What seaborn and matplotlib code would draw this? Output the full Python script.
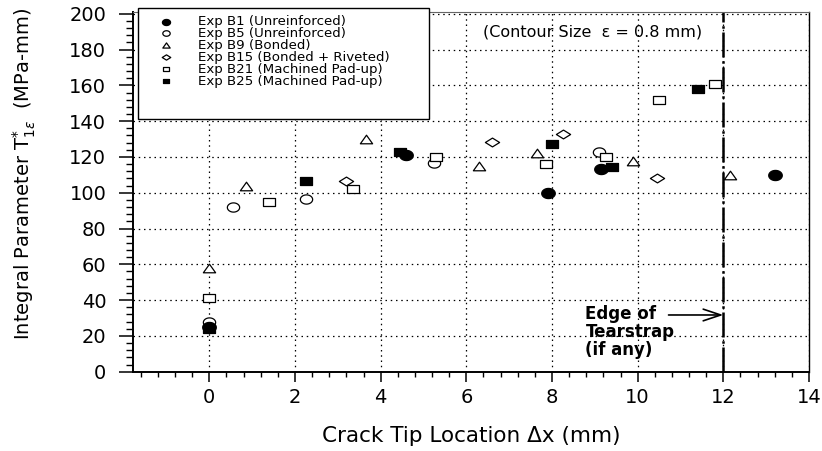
import numpy as np
import pandas as pd
import matplotlib
matplotlib.use("Agg")
import matplotlib.pyplot as plt
from matplotlib.path import Path
from matplotlib.patches import Rectangle
from matplotlib.ticker import MultipleLocator
import seaborn as sns

# ---------------- data ----------------
series_names = [
    "Exp B1 (Unreinforced)",
    "Exp B5 (Unreinforced)",
    "Exp B9 (Bonded)",
    "Exp B15 (Bonded + Riveted)",
    "Exp B21 (Machined Pad-up)",
    "Exp B25 (Machined Pad-up)",
]
b1_x = [0.0, 4.6, 7.9, 9.15, 13.2]
b1_y = [25, 121, 100, 113, 110]
b5_x = [0.0, 0.55, 2.25, 5.25, 9.1]
b5_y = [28, 92, 96.5, 116.5, 123]
b9_x = [0.0, 0.85, 3.65, 6.3, 7.65, 9.9, 12.15]
b9_y = [58, 104, 130, 115, 122, 118, 110]
b15_x = [3.2, 6.6, 8.25, 10.45]
b15_y = [106.5, 128.5, 133, 108.5]
b21_x = [0.0, 1.4, 3.35, 5.3, 7.85, 9.25, 10.5, 11.8]
b21_y = [41, 95, 102, 120, 116, 120, 152, 161]
b25_x = [0.0, 2.25, 4.45, 8.0, 9.4, 11.4]
b25_y = [24, 106.5, 123, 127, 114.5, 158]

x_ticks = [0, 2, 4, 6, 8, 10, 12, 14]
y_ticks = [0, 20, 40, 60, 80, 100, 120, 140, 160, 180, 200]
tearstrap_x = 12.0
edge_arrow_y = 31.7
edge_arrow_start_x = 10.72
edge_text = "Edge of\nTearstrap\n(if any)"
contour_text = "(Contour Size  \u03b5 = 0.8 mm)"
x_label = "Crack Tip Location \u0394x (mm)"
y_label = r"Integral Parameter T$^{*}_{1\varepsilon}$  (MPa-mm)"

xs = [b1_x, b5_x, b9_x, b15_x, b21_x, b25_x]
ys = [b1_y, b5_y, b9_y, b15_y, b21_y, b25_y]
df = pd.concat(
    [pd.DataFrame({"x": x, "y": y, "series": n}) for n, x, y in zip(series_names, xs, ys)],
    ignore_index=True,
)

# ---------------- marker shapes (image is horizontally wide) ----------------
def make_path(verts):
    verts = list(verts) + [verts[0]]
    return Path(np.array(verts, dtype=float), closed=True)

t = np.linspace(0, 2 * np.pi, 64, endpoint=False)
ellipse = make_path(list(zip(np.cos(t), 0.75 * np.sin(t))))
square = make_path([(-1, -0.7), (1, -0.7), (1, 0.7), (-1, 0.7)])
triangle = make_path([(-1, -0.7), (1, -0.7), (0, 0.7)])
diamond = make_path([(0, -0.62), (1, 0), (0, 0.62), (-1, 0)])

styles = {
    series_names[0]: dict(marker=ellipse, color="black", s=95, zorder=4),
    series_names[1]: dict(marker=ellipse, color="white", s=78, zorder=3),
    series_names[2]: dict(marker=triangle, color="white", s=78, zorder=3),
    series_names[3]: dict(marker=diamond, color="white", s=105, zorder=3),
    series_names[4]: dict(marker=square, color="white", s=66, zorder=3),
    series_names[5]: dict(marker=square, color="black", s=66, zorder=4),
}

# ---------------- figure ----------------
sns.set_theme(style="ticks")
plt.rcParams["font.family"] = ["DejaVu Sans"]
plt.rcParams["mathtext.fontset"] = "dejavusans"
for key in ["text.color", "axes.labelcolor", "xtick.color", "ytick.color"]:
    plt.rcParams[key] = "black"

fig = plt.figure(figsize=(8.22, 4.51), dpi=100)
ax = fig.add_axes([0.1614, 0.1758, 0.8228, 0.7976])

for name in series_names:
    st = styles[name]
    sub = df[df["series"] == name]
    sns.scatterplot(
        data=sub, x="x", y="y", ax=ax, marker=st["marker"], s=st["s"],
        color=st["color"], edgecolor="black", linewidth=0.9,
        zorder=st["zorder"], label=name, legend=False,
    )

ax.set_xlim(-1.79, 14)
ax.set_ylim(0, 201)
ax.set_xticks(x_ticks)
ax.set_yticks(y_ticks)
ax.xaxis.set_minor_locator(MultipleLocator(0.4))
ax.yaxis.set_minor_locator(MultipleLocator(4))

ax.tick_params(axis="x", which="major", direction="out", length=7, width=1.1,
               labelsize=14, pad=5, colors="black")
ax.tick_params(axis="x", which="minor", direction="out", length=3.6, width=1.0)
ax.tick_params(axis="y", which="major", direction="out", length=10, width=1.1,
               labelsize=14, pad=9, colors="black")
ax.tick_params(axis="y", which="minor", direction="out", length=5, width=1.0)

ax.grid(True, which="major", color="black", linestyle=(0, (1.2, 3)), linewidth=0.9)
ax.set_axisbelow(True)

for side in ["left", "bottom"]:
    ax.spines[side].set_linewidth(1.4)
    ax.spines[side].set_color("black")
ax.spines["right"].set_linewidth(1.0)
ax.spines["right"].set_color("black")
ax.spines["top"].set_linewidth(0.8)
ax.spines["top"].set_color("#666666")

ax.set_xlabel(x_label, fontsize=15.5, color="black")
ax.set_ylabel(y_label, fontsize=14, color="black")
ax.xaxis.set_label_coords(0.5, -0.15)
ax.yaxis.set_label_coords(-0.14, 0.551)

# tearstrap edge
ax.axvline(tearstrap_x, color="black", linewidth=1.8,
           linestyle=(0, (10, 1.5, 1, 1.5)), zorder=2.5)
ax.annotate("", xy=(tearstrap_x, edge_arrow_y), xytext=(edge_arrow_start_x, edge_arrow_y),
            arrowprops=dict(arrowstyle="->,head_length=0.9,head_width=0.3",
                            lw=1.2, color="black", mutation_scale=14,
                            shrinkA=0, shrinkB=0))
ax.text(8.78, 22.4, edge_text, fontsize=12, fontweight="bold", ha="left",
        va="center", linespacing=1.0, color="black")

ax.text(6.39, 189.6, contour_text, fontsize=11.5, ha="left", va="center",
        color="black")

# legend with its box
rect = Rectangle((138 / 822, 1 - 119 / 451), 291 / 822, 111 / 451,
                 transform=fig.transFigure, facecolor="white", edgecolor="black",
                 linewidth=1.0, zorder=4.5, clip_on=False)
ax.add_patch(rect)
handles, labels = ax.get_legend_handles_labels()
leg = ax.legend(handles, labels, loc="upper left",
                bbox_to_anchor=(152.7 / 822, 1 - 15 / 451),
                bbox_transform=fig.transFigure, frameon=False, fontsize=9.6,
                labelspacing=-0.08, handletextpad=1.4, handlelength=2.0,
                borderpad=0, borderaxespad=0, markerscale=0.6)
leg.set_zorder(5)
for txt in leg.get_texts():
    txt.set_color("black")

fig.savefig("out.png", dpi=100)
